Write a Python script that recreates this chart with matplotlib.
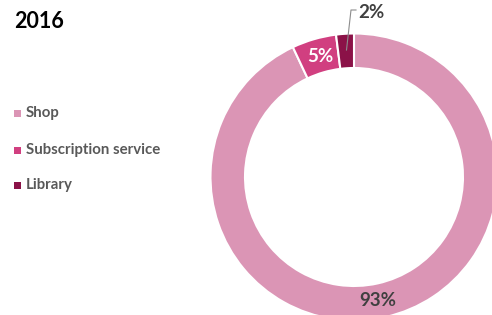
import matplotlib
matplotlib.use('Agg')
import matplotlib.pyplot as plt

plt.rcParams['font.family'] = ['Lato', 'DejaVu Sans']

# data
title = '2016'
categories = ['Shop', 'Subscription service', 'Library']
shares = [93, 5, 2]
labels = ['93%', '5%', '2%']
colors = ['#DB95B5', '#D13F80', '#8B1248']

W, H = 492, 315
fig = plt.figure(figsize=(W / 100, H / 100), dpi=100)
ax = fig.add_axes([0, 0, 1, 1])

# donut, pixel-based coordinates (y up)
cx, cy = 354, H - 177
R = 143.5
ax.pie(shares, colors=colors, startangle=90, counterclock=False,
       center=(cx, cy), radius=R,
       wedgeprops=dict(width=34.5, edgecolor='white', linewidth=1.5))

ax.set_xlim(0, W)
ax.set_ylim(0, H)
ax.set_aspect('equal')
ax.axis('off')

# percentage labels
ax.text(378, H - 301, labels[0], ha='center', va='center', fontsize=13.5,
        fontweight='bold', color='#404040')
ax.text(320, H - 57, labels[1], ha='center', va='center', fontsize=13.5,
        fontweight='bold', color='white')
ax.text(358, H - 13, labels[2], ha='left', va='center', fontsize=13.5,
        fontweight='bold', color='#404040')
# leader line for the small slice
ax.plot([346.5, 351, 356], [H - 50, H - 10, H - 10], color='#8C8C8C', lw=0.8)

# title
ax.text(14, H - 22, title, ha='left', va='center', fontsize=15.5,
        fontweight='bold', color='black')

# legend
leg_y = [113, 150, 185]
for cat, col, y in zip(categories, colors, leg_y):
    ax.add_patch(plt.Rectangle((14, H - y - 3.5), 7, 7, color=col, lw=0))
    ax.text(26, H - y, cat, ha='left', va='center', fontsize=10.8,
            fontweight='bold', color='#595959')

fig.savefig('out.png', dpi=100)
